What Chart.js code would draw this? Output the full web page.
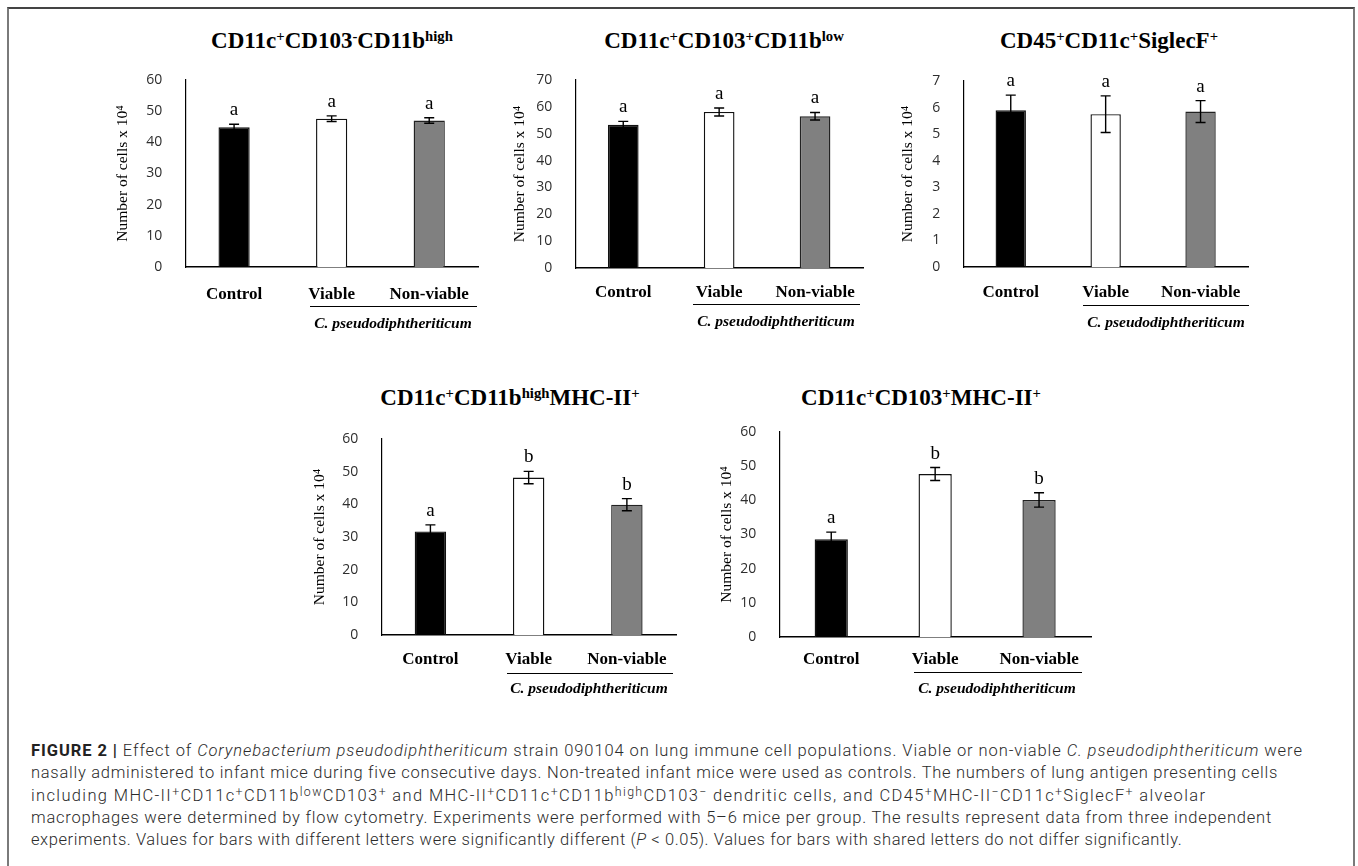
<!DOCTYPE html>
<html>
<head>
<meta charset="utf-8">
<script src="https://cdn.jsdelivr.net/npm/chart.js@4.4.0/dist/chart.umd.min.js"></script>
<style>
  html, body { margin:0; padding:0; background:#fff; }
  body { width:1358px; height:866px; position:relative; overflow:hidden; }
  .frame { position:absolute; left:7px; top:7px; width:1344px; height:900px;
           border-top:2px solid #444; border-left:2px solid #7a7a7a; border-right:2px solid #7a7a7a; }
  canvas { position:absolute; }
  .ptitle { position:absolute; font-family:"Liberation Serif", serif; font-weight:bold; font-size:23px;
            line-height:22px; white-space:nowrap; transform:translateX(-50%); color:#000; }
  .ptitle sup { font-size:0.64em; vertical-align:0.5em; line-height:0; }
  .uline { position:absolute; height:0; border-top:1.6px solid #000; }
  .grp { position:absolute; font-family:"Liberation Serif", serif; font-style:italic; font-weight:bold;
         font-size:15.5px; line-height:15px; white-space:nowrap; transform:translateX(-50%); color:#000; }
  .caption { position:absolute; left:31px; top:740px; font-family:Roboto, "Liberation Sans", sans-serif;
             font-weight:300; font-size:16.5px; line-height:22.3px; color:#2b2b2b; }
  .caption > div { white-space:nowrap; display:block; width:max-content; }
  .caption b { font-weight:700; color:#222; }
  .caption sup { font-size:0.75em; vertical-align:0.42em; line-height:0; }
</style>
</head>
<body>
<div class="frame"></div>

<div class="ptitle" style="left:332px; top:30px;">CD11c<sup>+</sup>CD103<sup>-</sup>CD11b<sup>high</sup></div>
<div class="ptitle" style="left:724px; top:30px;">CD11c<sup>+</sup>CD103<sup>+</sup>CD11b<sup>low</sup></div>
<div class="ptitle" style="left:1109px; top:30px;">CD45<sup>+</sup>CD11c<sup>+</sup>SiglecF<sup>+</sup></div>
<div class="ptitle" style="left:510px; top:387px;">CD11c<sup>+</sup>CD11b<sup>high</sup>MHC-II<sup>+</sup></div>
<div class="ptitle" style="left:921px; top:387px;">CD11c<sup>+</sup>CD103<sup>+</sup>MHC-II<sup>+</sup></div>

<canvas id="c1"></canvas>
<canvas id="c2"></canvas>
<canvas id="c3"></canvas>
<canvas id="c4"></canvas>
<canvas id="c5"></canvas>

<div class="uline" style="left:310px; top:306px; width:167px;"></div>
<div class="grp" style="left:393px; top:315px;">C. pseudodiphtheriticum</div>
<div class="uline" style="left:693px; top:304px; width:167px;"></div>
<div class="grp" style="left:776px; top:313px;">C. pseudodiphtheriticum</div>
<div class="uline" style="left:1083px; top:305px; width:166px;"></div>
<div class="grp" style="left:1166px; top:314px;">C. pseudodiphtheriticum</div>
<div class="uline" style="left:507px; top:673px; width:166px;"></div>
<div class="grp" style="left:589px; top:680px;">C. pseudodiphtheriticum</div>
<div class="uline" style="left:914px; top:672px; width:168px;"></div>
<div class="grp" style="left:997px; top:680px;">C. pseudodiphtheriticum</div>

<div class="caption" id="caption">
<div><b>FIGURE 2 |</b> Effect of <i>Corynebacterium pseudodiphtheriticum</i> strain 090104 on lung immune cell populations. Viable or non-viable <i>C. pseudodiphtheriticum</i> were</div>
<div>nasally administered to infant mice during five consecutive days. Non-treated infant mice were used as controls. The numbers of lung antigen presenting cells</div>
<div>including MHC-II<sup>+</sup>CD11c<sup>+</sup>CD11b<sup>low</sup>CD103<sup>+</sup> and MHC-II<sup>+</sup>CD11c<sup>+</sup>CD11b<sup>high</sup>CD103<sup>&minus;</sup> dendritic cells, and CD45<sup>+</sup>MHC-II<sup>&minus;</sup>CD11c<sup>+</sup>SiglecF<sup>+</sup> alveolar</div>
<div>macrophages were determined by flow cytometry. Experiments were performed with 5&ndash;6 mice per group. The results represent data from three independent</div>
<div>experiments. Values for bars with different letters were significantly different (<i>P</i> &lt; 0.05). Values for bars with shared letters do not differ significantly.</div>
</div>

<script>
// ---------- data ----------
const categories = ['Control', 'Viable', 'Non-viable'];

const dcHighValues = [44.8, 47.6, 47.0];
const dcHighErrors = [1.0, 0.9, 0.9];
const dcHighLetters = ['a', 'a', 'a'];

const dcLowValues = [53.3, 58.1, 56.5];
const dcLowErrors = [1.3, 1.5, 1.4];
const dcLowLetters = ['a', 'a', 'a'];

const amValues = [5.9, 5.75, 5.85];
const amErrors = [0.57, 0.69, 0.41];
const amLetters = ['a', 'a', 'a'];

const mhcHighValues = [31.7, 48.2, 39.9];
const mhcHighErrors = [2.0, 1.9, 1.85];
const mhcHighLetters = ['a', 'b', 'b'];

const mhc103Values = [28.6, 47.7, 40.1];
const mhc103Errors = [2.1, 1.9, 2.1];
const mhc103Letters = ['a', 'b', 'b'];

const yMaxes = [60, 70, 7, 60, 60];
const yStepSizes = [10, 10, 1, 10, 10];
const yAxisTitle = 'Number of cells x 10\u2074';

// ---------- styles / layout ----------
const barFills = ['#000000', '#ffffff', '#808080'];
const barBorders = ['#111111', '#111111', '#222222'];

const panelLayouts = [
  { id:'c1', L:185, R:478, T:80, B:266.5, titleX:123, xPad:9 },
  { id:'c2', L:575, R:863, T:80, B:267.5, titleX:520, xPad:6 },
  { id:'c3', L:963, R:1248, T:81, B:267, titleX:908, xPad:7 },
  { id:'c4', L:381, R:676, T:439, B:635, titleX:320, xPad:6 },
  { id:'c5', L:779, R:1091, T:432, B:637, titleX:727, xPad:4 }
];

const panelData = [
  [dcHighValues, dcHighErrors, dcHighLetters],
  [dcLowValues, dcLowErrors, dcLowLetters],
  [amValues, amErrors, amLetters],
  [mhcHighValues, mhcHighErrors, mhcHighLetters],
  [mhc103Values, mhc103Errors, mhc103Letters]
];

// caption line right edges (page px) used to fit tracking
const captionLineEnds = [1302, 1277, 1205, 1271, 1181];

const errorBarPlugin = {
  id: 'errorBars',
  afterDatasetsDraw(chart) {
    const ctx = chart.ctx;
    const y = chart.scales.y;
    const ds = chart.data.datasets[0];
    const meta = chart.getDatasetMeta(0);
    ctx.save();
    meta.data.forEach((bar, i) => {
      const v = ds.data[i], e = ds.errors[i];
      const yt = y.getPixelForValue(v + e);
      const yb = y.getPixelForValue(v - e);
      ctx.strokeStyle = '#000';
      ctx.lineWidth = 1.4;
      ctx.beginPath();
      ctx.moveTo(bar.x, yt); ctx.lineTo(bar.x, yb);
      ctx.moveTo(bar.x - 5, yt); ctx.lineTo(bar.x + 5, yt);
      ctx.moveTo(bar.x - 5, yb); ctx.lineTo(bar.x + 5, yb);
      ctx.stroke();
      ctx.fillStyle = '#000';
      ctx.font = '19px "Liberation Serif"';
      ctx.textAlign = 'center';
      ctx.textBaseline = 'alphabetic';
      ctx.fillText(ds.letters[i], bar.x, yt - 9);
    });
    ctx.restore();
  }
};

const PAD_TOP = 30, PAD_RIGHT = 12, X_AXIS_H = 46;
const TITLE_LINE = 18.6;

panelLayouts.forEach((p, k) => {
  const [values, errors, letters] = panelData[k];
  const canvasLeft = p.titleX - TITLE_LINE / 2 - 3;
  const canvasTop = p.T - PAD_TOP;
  const w = Math.round(p.R - canvasLeft + PAD_RIGHT);
  const h = Math.round(p.B - canvasTop + X_AXIS_H);
  const yW = p.L - canvasLeft;
  const cv = document.getElementById(p.id);
  cv.width = w; cv.height = h;
  cv.style.left = canvasLeft + 'px';
  cv.style.top = canvasTop + 'px';
  cv.style.width = w + 'px';
  cv.style.height = h + 'px';

  new Chart(cv, {
    type: 'bar',
    data: {
      labels: categories,
      datasets: [{
        data: values,
        errors: errors,
        letters: letters,
        backgroundColor: barFills,
        borderColor: barBorders,
        borderWidth: 1.4,
        barPercentage: 0.32,
        categoryPercentage: 1.0
      }]
    },
    options: {
      responsive: false,
      animation: false,
      devicePixelRatio: 1,
      layout: { padding: { top: PAD_TOP, right: PAD_RIGHT, left: 0, bottom: 0 } },
      plugins: { legend: { display: false }, tooltip: { enabled: false } },
      scales: {
        x: {
          grid: { display: false },
          border: { display: true, color: '#000', width: 1.4 },
          ticks: {
            color: '#000',
            font: { family: '"Liberation Serif"', size: 17, weight: 'bold' },
            padding: p.xPad, maxRotation: 0, autoSkip: false
          },
          afterFit(s) { s.height = X_AXIS_H; }
        },
        y: {
          min: 0, max: yMaxes[k],
          grid: { display: false },
          border: { display: true, color: '#000', width: 1.2 },
          ticks: {
            stepSize: yStepSizes[k],
            color: '#2e2e2e',
            font: { family: '"Open Sans"', size: 14 },
            padding: 15
          },
          title: {
            display: true, text: yAxisTitle, color: '#000',
            font: { family: '"Liberation Serif"', size: 15.5 },
            padding: { top: 3, bottom: 0 }
          },
          afterFit(s) { s.width = yW; }
        }
      }
    },
    plugins: [errorBarPlugin]
  });
});

// fit caption line tracking to the reference line lengths
const capEl = document.getElementById('caption');
const capLeft = capEl.getBoundingClientRect().left;
Array.from(capEl.children).forEach((line, i) => {
  const natural = line.getBoundingClientRect().width;
  const chars = line.textContent.length;
  const target = captionLineEnds[i] - capLeft;
  const ls = (target - natural) / Math.max(chars - 1, 1);
  line.style.letterSpacing = ls.toFixed(3) + 'px';
});
</script>
</body>
</html>
